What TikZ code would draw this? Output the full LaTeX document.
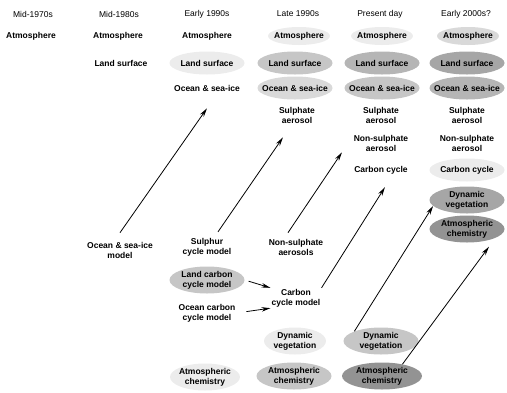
\documentclass[tikz,border=0pt]{standalone}
\usepackage{fontspec}
\setmainfont{Liberation Sans}
\usetikzlibrary{arrows.meta,shapes.geometric}

\tikzset{
  head/.style={font=\fontsize{8.5}{10}\selectfont,inner sep=1pt},
  item/.style={font=\fontsize{8.5}{10}\selectfont\bfseries,align=center,inner sep=1pt},
  blob/.style={item,ellipse,inner xsep=-7pt,inner ysep=-1pt,minimum width=75pt,minimum height=23pt},
  smallblob/.style={blob,minimum width=62pt,minimum height=18pt},
  tallblob/.style={blob,minimum height=27pt},
  tone1/.style={fill=gray!15},
  tone2/.style={fill=gray!30},
  tone3/.style={fill=gray!45},
  tone4/.style={fill=gray!58},
  tone5/.style={fill=gray!70},
  tone6/.style={fill=gray!85},
  link/.style={-{Stealth[length=9pt,width=4.5pt]},line width=0.8pt}
}

\begin{document}
\begin{tikzpicture}[x=1pt,y=-1pt]
  \useasboundingbox (0,0) rectangle (507,392);
  \node[head] (h1) at (33,14) {Mid-1970s};
  \node[head] (h2) at (119,14) {Mid-1980s};
  \node[head] (h3) at (207,14) {Early 1990s};
  \node[head] (h4) at (298,14) {Late 1990s};
  \node[head] (h5) at (380,14) {Present day};
  \node[head] (h6) at (466,14) {Early 2000s?};

  \node[item] (atm1) at (31,36) {Atmosphere};
  \node[item] (atm2) at (118,36) {Atmosphere};
  \node[item] (atm3) at (207,36) {Atmosphere};
  \node[smallblob,tone1] (atm4) at (299,36) {Atmosphere};
  \node[smallblob,tone1] (atm5) at (382,36) {Atmosphere};
  \node[smallblob,tone2] (atm6) at (468,36) {Atmosphere};

  \node[item] (land2) at (121,63) {Land surface};
  \node[blob,tone1] (land3) at (207,63) {Land surface};
  \node[blob,tone3] (land4) at (295,63) {Land surface};
  \node[blob,tone4] (land5) at (382,63) {Land surface};
  \node[blob,tone5] (land6) at (467,63) {Land surface};

  \node[item] (ocean3) at (207,88) {Ocean \& sea-ice};
  \node[blob,tone2] (ocean4) at (295,88) {Ocean \& sea-ice};
  \node[blob,tone3] (ocean5) at (382,88) {Ocean \& sea-ice};
  \node[blob,tone4] (ocean6) at (467,88) {Ocean \& sea-ice};

  \node[item] (sulph4) at (297,115) {Sulphate\\aerosol};
  \node[item] (sulph5) at (381,115) {Sulphate\\aerosol};
  \node[item] (sulph6) at (467,115) {Sulphate\\aerosol};
  \node[item] (nonsul5) at (381,143) {Non-sulphate\\aerosol};
  \node[item] (nonsul6) at (467,143) {Non-sulphate\\aerosol};
  \node[item] (carbon5) at (381,170) {Carbon cycle};
  \node[blob,tone1] (carbon6) at (467,170) {Carbon cycle};
  \node[tallblob,tone5] (dynveg6) at (467,200) {Dynamic\\vegetation};
  \node[tallblob,tone6] (chem6) at (467,229) {Atmospheric\\chemistry};

  \node[item] (oceanmod) at (120,250) {Ocean \& sea-ice\\model};
  \node[item] (sulmod) at (207,247) {Sulphur\\cycle model};
  \node[item] (nonsulmod) at (296,247) {Non-sulphate\\aerosols};
  \node[tallblob,tone3] (landcarb) at (207,280) {Land carbon\\cycle model};
  \node[item] (oceancarb) at (207,313) {Ocean carbon\\cycle model};
  \node[item] (carbmod) at (296,298) {Carbon\\cycle model};
  \node[tallblob,tone1,minimum width=62pt] (dynveg4) at (295,341) {Dynamic\\vegetation};
  \node[tallblob,tone3] (dynveg5) at (381,341) {Dynamic\\vegetation};
  \node[tallblob,tone1,minimum width=70pt] (chem3) at (205,377) {Atmospheric\\chemistry};
  \node[tallblob,tone3] (chem4) at (294,376) {Atmospheric\\chemistry};
  \node[tallblob,tone6,minimum width=80pt] (chem5) at (382,376) {Atmospheric\\chemistry};

  \draw[link] ([yshift=8pt]oceanmod.north) -- ([yshift=-16pt]ocean3.south);
  \draw[link] ([shift={(11pt,5pt)}]sulmod.north) -- ([shift={(-14pt,-13pt)}]sulph4.south);
  \draw[link] ([shift={(-8pt,5pt)}]nonsulmod.north) -- ([xshift=-39pt]nonsul5.south);
  \draw[link] (carbmod.north east) -- ([shift={(4pt,-12pt)}]carbon5.south);
  \draw[link] (dynveg5.160) -- (dynveg6.190);
  \draw[link] (chem5.30) -- ([shift={(22pt,-4pt)}]chem6.south);
  \draw[link,shorten <=4pt] (landcarb.east) -- (carbmod.north west);
  \draw[link,shorten <=10pt] (oceancarb.east) -- (carbmod.south west);
\end{tikzpicture}
\end{document}
